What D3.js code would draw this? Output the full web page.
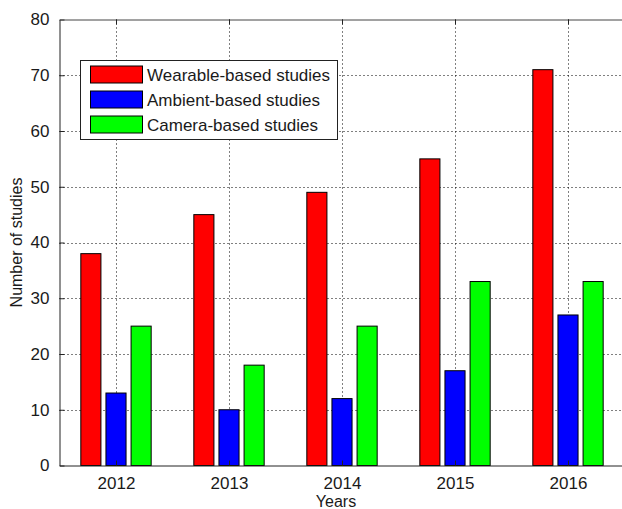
<!DOCTYPE html>
<html>
<head>
<meta charset="utf-8">
<script src="https://cdn.jsdelivr.net/npm/d3@7"></script>
<style>
  html, body { margin: 0; padding: 0; background: #fff; }
  svg { display: block; }
  text { font-family: Arial, "Liberation Sans", Helvetica, sans-serif; fill: #1a1a1a; }
</style>
</head>
<body>
<svg id="chart" width="622" height="509"></svg>
<script>
// Studies per year by sensing approach
const years = ["2012", "2013", "2014", "2015", "2016"];
const wearable = [38, 45, 49, 55, 71];
const ambient  = [13, 10, 12, 17, 27];
const camera   = [25, 18, 25, 33, 33];
const seriesNames = ["Wearable-based studies", "Ambient-based studies", "Camera-based studies"];
const seriesColors = ["#ff0000", "#0000ff", "#00ff00"];
const yTicks = [0, 10, 20, 30, 40, 50, 60, 70, 80];

const series = [wearable, ambient, camera];

(function draw() {
const svg = d3.select("#chart");
const plotLeft = 59.5, plotTop = 19.5, plotBottom = 465.5;

// Category positions 1..5 with half-unit padding on each side
const x = d3.scaleLinear().domain([0.5, years.length + 0.5]).range([plotLeft, plotLeft + 113 * 5]);
const y = d3.scaleLinear().domain([0, 80]).range([plotBottom, plotTop]);
const plotRight = x(years.length + 0.5);

const groupSpan = 0.667;            // fraction of category width used by a group
const slot = groupSpan / series.length;
const barW = slot * 0.8;

// Grid (dotted), behind the bars
const grid = svg.append("g");
grid.selectAll("line.h").data(yTicks.slice(1, -1)).join("line")
  .attr("x1", plotLeft).attr("x2", plotRight)
  .attr("y1", d => Math.round(y(d)) + 0.5).attr("y2", d => Math.round(y(d)) + 0.5)
  .attr("stroke", "#000").attr("stroke-width", 1).attr("stroke-dasharray", "1,3");
grid.selectAll("line.v").data(years).join("line")
  .attr("x1", (d, i) => Math.round(x(i + 1)) + 0.5).attr("x2", (d, i) => Math.round(x(i + 1)) + 0.5)
  .attr("y1", plotTop).attr("y2", plotBottom)
  .attr("stroke", "#000").attr("stroke-width", 1).attr("stroke-dasharray", "1,3");

// Bars
series.forEach((vals, s) => {
  svg.append("g").selectAll("rect").data(vals).join("rect")
    .attr("x", (d, i) => x(i + 1 + (s - 1) * slot - barW / 2))
    .attr("width", x(barW) - x(0))
    .attr("y", d => y(d))
    .attr("height", d => y(0) - y(d))
    .attr("fill", seriesColors[s])
    .attr("stroke", "#000").attr("stroke-width", 1);
});

// Axes box (left, top, bottom) with inward ticks
const axisColor = "#222";
const yAxis = d3.axisLeft(y).tickValues(yTicks).tickSizeInner(-5).tickSizeOuter(0).tickPadding(10);
const gy = svg.append("g").attr("transform", `translate(${plotLeft},0)`).call(yAxis);
gy.select(".domain").attr("stroke", axisColor);
gy.selectAll(".tick line").attr("stroke", axisColor);
gy.selectAll(".tick text").style("font-size", "17px").attr("fill", "#1a1a1a").attr("font-family", null);

const xAxis = d3.axisBottom(x).tickValues(years.map((d, i) => i + 1))
  .tickFormat((d, i) => years[i]).tickSizeInner(-5).tickSizeOuter(0).tickPadding(11);
const gx = svg.append("g").attr("transform", `translate(0,${plotBottom})`).call(xAxis);
gx.select(".domain").attr("stroke", axisColor);
gx.selectAll(".tick line").attr("stroke", axisColor);
gx.selectAll(".tick text").style("font-size", "17px").attr("fill", "#1a1a1a").attr("font-family", null);

const xTop = d3.axisTop(x).tickValues(years.map((d, i) => i + 1)).tickFormat("").tickSizeInner(-5).tickSizeOuter(0);
const gt = svg.append("g").attr("transform", `translate(0,${plotTop})`).call(xTop);
gt.select(".domain").attr("stroke", "#444");
gt.selectAll(".tick line").attr("stroke", axisColor);

// Axis titles
svg.append("text").attr("x", (plotLeft + plotRight) / 2 - 6).attr("y", 507)
  .attr("text-anchor", "middle").style("font-size", "16px").text("Years");
svg.append("text").attr("transform", `translate(22,${(plotTop + plotBottom) / 2}) rotate(-90)`)
  .attr("text-anchor", "middle").style("font-size", "16px").text("Number of studies");

// Legend
const lg = svg.append("g");
lg.append("rect").attr("x", 80.5).attr("y", 60.5).attr("width", 257).attr("height", 79)
  .attr("fill", "#fff").attr("stroke", "#222").attr("stroke-width", 1);
seriesNames.forEach((name, s) => {
  const cy = 74.5 + s * 25;
  lg.append("rect").attr("x", 90.5).attr("y", cy - 8.5).attr("width", 52).attr("height", 17)
    .attr("fill", seriesColors[s]).attr("stroke", "#000");
  lg.append("text").attr("x", 147).attr("y", cy + 6).style("font-size", "17px").text(name);
});
})();
</script>
</body>
</html>
